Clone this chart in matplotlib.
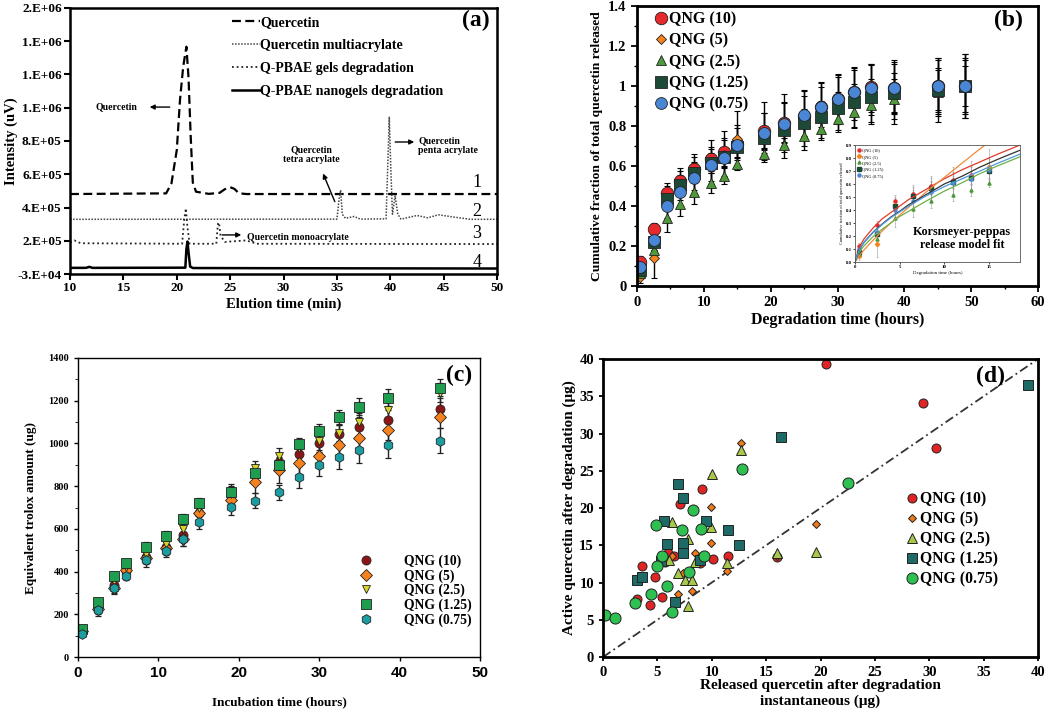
import matplotlib
matplotlib.use('Agg')
import matplotlib.pyplot as plt
from matplotlib.ticker import MultipleLocator, FixedLocator

plt.rcParams['font.family'] = ['Liberation Serif', 'DejaVu Serif']
plt.rcParams['font.weight'] = 'bold'
plt.rcParams['axes.labelweight'] = 'bold'

# ---------------- (a) chromatograms ----------------
a_x1 = [10, 19.0, 19.5, 20.0, 20.3, 20.6, 20.9, 21.1, 21.3, 21.5, 21.8, 23.0, 24.0, 24.5, 25.0, 25.4, 25.8, 26.5, 50]
a_y1 = [451e3, 455e3, 515e3, 716e3, 1017e3, 1217e3, 1337e3, 1150e3, 800e3, 520e3, 465e3, 452e3, 458e3, 480e3, 492e3, 482e3, 456e3, 451e3, 451e3]
a_x2 = [10, 35.0, 35.2, 35.35, 35.5, 35.8, 36.6, 37.2, 39.6, 39.8, 39.9, 40.05, 40.2, 40.45, 40.7, 41.0, 42.5, 43.5, 44.5, 46.0, 47.5, 50]
a_y2 = [299e3, 300e3, 420e3, 475e3, 330e3, 305e3, 316e3, 300e3, 302e3, 700e3, 916e3, 600e3, 330e3, 440e3, 330e3, 300e3, 322e3, 308e3, 326e3, 312e3, 299e3, 299e3]
a_x3 = [10, 10.4, 11.0, 20.5, 20.7, 20.85, 21.0, 21.2, 23.7, 23.85, 23.95, 24.1, 24.5, 26.5, 27.5, 50]
a_y3 = [160e3, 172e3, 155e3, 152e3, 300e3, 365e3, 250e3, 152e3, 152e3, 270e3, 280e3, 200e3, 163e3, 172e3, 152e3, 150e3]
a_x4 = [10, 11.5, 11.8, 12.1, 20.8, 20.9, 21.0, 21.1, 21.25, 21.5, 28.0, 50]
a_y4 = [7e3, 7e3, 13e3, 7e3, 8e3, 120e3, 165e3, 100e3, 15e3, 6e3, 5e3, 3e3]
a_names = ['Quercetin', 'Quercetin multiacrylate', 'Q-PBAE gels degradation', 'Q-PBAE nanogels degradation']
a_ytick_labels = ['-3.E+04', '2.E+05', '4.E+05', '6.E+05', '8.E+05', '1.E+06', '1.E+06', '1.E+06', '2.E+06']

# ---------------- (b) cumulative release ----------------
b_t = [0.5, 2.5, 4.5, 6.5, 8.5, 11, 13, 15, 19, 22, 25, 27.5, 30, 32.5, 35, 38.5, 45, 49]
b_names = ['QNG (10)', 'QNG (5)', 'QNG (2.5)', 'QNG (1.25)', 'QNG (0.75)']
b_q10 = [0.12, 0.283, 0.467, 0.525, 0.583, 0.633, 0.668, 0.71, 0.775, 0.813, 0.85, 0.893, 0.933, 0.97, 0.993, 0.99, 1.0, 1.0]
b_q5 = [0.047, 0.14, 0.44, 0.51, 0.57, 0.62, 0.655, 0.733, 0.77, 0.80, 0.83, 0.88, 0.92, 0.943, 0.96, 0.97, 0.98, 1.0]
b_q25 = [0.065, 0.18, 0.342, 0.41, 0.472, 0.517, 0.552, 0.608, 0.66, 0.705, 0.75, 0.785, 0.835, 0.868, 0.905, 0.935, 0.97, 1.0]
b_q125 = [0.08, 0.218, 0.433, 0.505, 0.567, 0.613, 0.647, 0.697, 0.738, 0.78, 0.813, 0.847, 0.888, 0.918, 0.947, 0.963, 0.98, 1.0]
b_q075 = [0.097, 0.23, 0.402, 0.472, 0.542, 0.605, 0.642, 0.705, 0.763, 0.81, 0.855, 0.897, 0.935, 0.968, 0.992, 0.988, 1.0, 1.0]
b_e10 = [0.03, 0.03, 0.05, 0.05, 0.06, 0.06, 0.07, 0.08, 0.09, 0.1, 0.1, 0.1, 0.11, 0.11, 0.11, 0.12, 0.13, 0.13]
b_e5 = [0.03, 0.10, 0.06, 0.08, 0.09, 0.11, 0.12, 0.14, 0.15, 0.16, 0.15, 0.14, 0.14, 0.15, 0.15, 0.16, 0.16, 0.16]
b_e25 = [0.03, 0.04, 0.07, 0.06, 0.06, 0.05, 0.04, 0.03, 0.03, 0.035, 0.05, 0.055, 0.065, 0.08, 0.085, 0.10, 0.12, 0.14]
b_e125 = [0.03, 0.04, 0.05, 0.05, 0.05, 0.05, 0.05, 0.05, 0.06, 0.06, 0.07, 0.08, 0.08, 0.09, 0.09, 0.1, 0.1, 0.1]
b_e075 = [0.03, 0.05, 0.06, 0.07, 0.08, 0.08, 0.09, 0.1, 0.1, 0.11, 0.12, 0.12, 0.12, 0.12, 0.12, 0.13, 0.14, 0.16]
b_yticks = [0, 0.2, 0.4, 0.6, 0.8, 1.0, 1.2, 1.4]
b_ytick_labels = ['0', '0.2', '0.4', '0.6', '0.8', '1', '1.2', '1.4']
# inset: Korsmeyer-Peppas fit curves
k_t = [0, 0.5, 1, 2, 3, 4, 5, 6, 8, 10, 12, 14, 16, 18.5]
k_q10 = [0, 0.12, 0.177, 0.26, 0.33, 0.38, 0.43, 0.48, 0.56, 0.64, 0.71, 0.77, 0.83, 0.90]
k_q5 = [0, 0.051, 0.092, 0.166, 0.235, 0.30, 0.36, 0.42, 0.54, 0.65, 0.76, 0.87, 0.97, 1.08]
k_q25 = [0, 0.079, 0.124, 0.194, 0.25, 0.30, 0.35, 0.39, 0.47, 0.545, 0.61, 0.68, 0.74, 0.81]
k_q125 = [0, 0.10, 0.151, 0.228, 0.29, 0.345, 0.39, 0.44, 0.52, 0.60, 0.66, 0.73, 0.79, 0.86]
k_q075 = [0, 0.10, 0.15, 0.225, 0.286, 0.34, 0.385, 0.43, 0.51, 0.58, 0.64, 0.70, 0.76, 0.83]

# ---------------- (c) trolox equivalent ----------------
c_t = [0.5, 2.5, 4.5, 6, 8.5, 11, 13, 15, 19, 22, 25, 27.5, 30, 32.5, 35, 38.5, 45]
c_q10 = [118, 230, 337, 405, 470, 515, 572, 674, 759, 858, 915, 950, 1004, 1042, 1077, 1111, 1162]
c_q5 = [120, 225, 322, 406, 465, 510, 552, 674, 736, 820, 877, 907, 943, 992, 1027, 1065, 1122]
c_q25 = [125, 240, 356, 421, 483, 529, 598, 700, 765, 884, 942, 978, 1011, 1050, 1101, 1158, 1237]
c_q125 = [130, 256, 379, 441, 513, 567, 644, 720, 774, 863, 897, 996, 1057, 1122, 1172, 1214, 1261]
c_q075 = [110, 221, 322, 380, 452, 497, 552, 633, 702, 731, 771, 843, 901, 936, 969, 992, 1013]
c_e10 = [15, 25, 25, 25, 30, 30, 30, 35, 35, 40, 40, 45, 45, 45, 45, 45, 50]
c_e5 = [15, 25, 25, 25, 30, 30, 30, 35, 40, 50, 60, 50, 50, 50, 50, 50, 50]
c_e25 = [15, 20, 20, 20, 25, 25, 25, 30, 35, 35, 35, 40, 40, 40, 40, 40, 45]
c_e125 = [15, 20, 20, 20, 25, 25, 25, 25, 35, 35, 35, 30, 35, 35, 40, 40, 40]
c_e075 = [10, 30, 20, 20, 30, 30, 30, 35, 35, 35, 35, 50, 55, 55, 60, 60, 60]

# ---------------- (d) active vs released ----------------
d_x10 = [20.5, 29.4, 30.6, 10.1, 11.5, 9.1, 7.1, 6.0, 5.7, 6.5, 3.6, 4.8, 3.1, 4.3, 5.4, 8.9, 16.0]
d_y10 = [39.3, 34.1, 28.0, 13.1, 13.5, 22.5, 20.6, 14.0, 12.8, 13.5, 12.2, 10.8, 7.8, 7.0, 8.0, 12.6, 13.4]
d_x5 = [12.7, 9.9, 9.9, 19.6, 8.5, 6.3, 7.4, 6.9, 8.2, 11.4, 16.0]
d_y5 = [28.7, 20.2, 15.3, 17.8, 13.9, 13.6, 11.3, 8.4, 8.8, 11.5, 13.5]
d_x25 = [12.7, 10.0, 6.3, 9.9, 7.8, 6.1, 8.5, 11.4, 6.9, 7.5, 8.2, 7.8, 16.0, 19.6]
d_y25 = [27.8, 24.6, 18.1, 17.5, 15.9, 13.0, 12.8, 12.6, 11.3, 10.3, 10.4, 6.8, 13.9, 14.1]
d_x125 = [39.1, 16.4, 6.9, 7.4, 5.6, 9.5, 11.5, 5.9, 7.4, 7.4, 12.5, 8.9, 5.3, 3.1, 3.6, 6.6]
d_y125 = [36.5, 29.5, 23.2, 21.3, 18.2, 18.3, 17.0, 15.2, 15.3, 14.0, 15.0, 13.0, 12.9, 10.4, 10.7, 7.4]
d_x075 = [22.5, 12.8, 8.3, 4.9, 7.3, 9.0, 9.3, 5.4, 5.0, 7.9, 5.9, 4.4, 2.9, 6.3, 0.2, 1.1]
d_y075 = [23.4, 25.3, 19.7, 17.7, 17.1, 17.2, 13.5, 13.5, 12.2, 11.4, 9.6, 8.5, 7.3, 6.0, 5.7, 5.3]
d_line = [0, 40]

fig = plt.figure(figsize=(10.5, 7.13), dpi=100)

# ===== panel (a) =====
ax = fig.add_axes([0.0667, 0.6157, 0.4067, 0.3731])
ax.plot(a_x1, a_y1, color='black', lw=1.6, ls=(0, (4, 2)), label=a_names[0])
ax.plot(a_x2, a_y2, color='#444444', lw=1.1, ls=(0, (1, 1)), label=a_names[1])
ax.plot(a_x3, a_y3, color='#222222', lw=1.3, ls=(0, (1, 1.6)), label=a_names[2])
ax.plot(a_x4, a_y4, color='black', lw=1.8, ls='-', label=a_names[3])
ax.set_xlim(10, 50)
ax.set_ylim(-3e4, 1.57e6)
ax.yaxis.set_major_locator(FixedLocator([-3e4 + i * 2e5 for i in range(9)]))
ax.set_yticklabels(a_ytick_labels)
ax.xaxis.set_major_locator(MultipleLocator(5))
ax.tick_params(labelsize=9.5, width=1.5, length=4, pad=2)
for s in ax.spines.values():
    s.set_linewidth(1.8)
ax.set_xlabel('Elution time (min)', fontsize=10.5, labelpad=2)
ax.set_ylabel('Intensity (uV)', fontsize=10.5, labelpad=0)
ax.legend(loc='upper left', bbox_to_anchor=(0.36, 1.0), frameon=False, fontsize=10,
          handlelength=2.0, handletextpad=0.0, labelspacing=0.72, borderaxespad=0.2)
ax.text(0.951, 0.955, '(a)', transform=ax.transAxes, fontsize=17, ha='center', va='center')
for lbl, yy in zip(['1', '2', '3', '4'], [520e3, 345e3, 214e3, 40e3]):
    ax.text(48.1, yy, lbl, fontsize=13, fontweight='normal', ha='center', va='center')
ann = dict(arrowstyle='-|>', color='black', lw=1.0, mutation_scale=7)
ax.annotate('', xy=(17.2, 974e3), xytext=(19.6, 974e3), arrowprops=ann)
ax.text(14.3, 974e3, 'Quercetin', fontsize=7, ha='center', va='center')
ax.annotate('', xy=(33.6, 590e3), xytext=(34.9, 390e3), arrowprops=ann)
ax.text(32.6, 686e3, 'Quercetin\ntetra acrylate', fontsize=7, ha='center', va='center', linespacing=1.1)
ax.annotate('', xy=(42.5, 764e3), xytext=(40.2, 764e3), arrowprops=ann)
ax.text(42.6, 740e3, 'Quercetin\npenta acrylate', fontsize=7, ha='left', va='center', linespacing=1.1)
ax.annotate('', xy=(26.3, 205e3), xytext=(24.0, 205e3), arrowprops=ann)
ax.text(26.6, 188e3, 'Quercetin monoacrylate', fontsize=7, ha='left', va='center')

# ===== panel (b) =====
bx = fig.add_axes([0.6067, 0.5989, 0.3819, 0.3927])
b_series = [b_q10, b_q5, b_q25, b_q125, b_q075]
b_errs = [b_e10, b_e5, b_e25, b_e125, b_e075]
b_colors = ['#E8292B', '#F5841F', '#4E9A3A', '#1D4A37', '#4A86D6']
b_markers = ['o', 'D', '^', 's', 'o']
b_sizes = [9, 5, 7.5, 8, 8.5]
for ys, es in zip(b_series, b_errs):
    bx.errorbar(b_t, ys, yerr=es, fmt='none', ecolor='black', elinewidth=1.0, capsize=2, capthick=0.8)
for ys, c, m, ms, nm in zip(b_series, b_colors, b_markers, b_sizes, b_names):
    bx.plot(b_t, ys, ls='none', marker=m, ms=ms, mfc=c, mec='#222222', mew=0.6, label=nm)
bx.set_xlim(0, 60)
bx.set_ylim(0, 1.4)
bx.xaxis.set_major_locator(MultipleLocator(10))
bx.xaxis.set_minor_locator(MultipleLocator(5))
bx.yaxis.set_major_locator(FixedLocator(b_yticks))
bx.yaxis.set_minor_locator(MultipleLocator(0.1))
bx.set_yticklabels(b_ytick_labels)
bx.tick_params(labelsize=10.5, width=1.3, length=4)
bx.tick_params(which='minor', length=2.5, width=1)
for s in bx.spines.values():
    s.set_linewidth(2)
bx.set_xlabel('Degradation time (hours)', fontsize=11.5, labelpad=2)
bx.set_ylabel('Cumulative fraction of total quercetin released', fontsize=9.7, labelpad=4)
bx.legend(loc='upper left', bbox_to_anchor=(0.012, 1.025), frameon=False, fontsize=11.5,
          handlelength=0.8, handletextpad=0.1, labelspacing=0.32, borderaxespad=0.4)
bx.text(0.925, 0.95, '(b)', transform=bx.transAxes, fontsize=17, ha='center', va='center')

# inset
ix = fig.add_axes([0.8143, 0.6325, 0.157, 0.164])
k_series = [k_q10, k_q5, k_q25, k_q125, k_q075]
k_colors = ['#E03A2A', '#F08A3A', '#6FAE47', '#333333', '#4A9ADA']
for ys, es in zip(b_series, b_errs):
    ix.errorbar(b_t[:8], ys[:8], yerr=es[:8], fmt='none', ecolor='#999999', elinewidth=0.4, capsize=0.8, capthick=0.4)
for ys, c, m, nm in zip(b_series, b_colors, b_markers, b_names):
    ix.plot(b_t[:8], ys[:8], ls='none', marker=m, ms=2.2, mfc=c, mec=c, label=nm)
for ys, c in zip(k_series, k_colors):
    ix.plot(k_t, ys, color=c, lw=0.9)
ix.set_xlim(0, 18.5)
ix.set_ylim(0, 0.9)
ix.xaxis.set_major_locator(MultipleLocator(5))
ix.yaxis.set_major_locator(MultipleLocator(0.1))
ix.tick_params(labelsize=3.5, length=1.5, width=0.5, pad=1)
for s in ix.spines.values():
    s.set_linewidth(0.6)
    s.set_color('#555555')
ix.set_xlabel('Degradation time (hours)', fontsize=3.5, labelpad=1, fontweight='normal')
ix.set_ylabel('Cumulative fraction of total quercetin released', fontsize=3.2, labelpad=1, fontweight='normal')
ix.legend(loc='upper left', frameon=False, handlelength=0.6, handletextpad=0.3,
          labelspacing=0.5, borderaxespad=0.3, prop={'size': 3.2, 'weight': 'normal'})
ix.text(0.65, 0.2, 'Korsmeyer-peppas\nrelease model fit', transform=ix.transAxes, fontsize=8.7,
        ha='center', va='center', linespacing=1.1)

# ===== panel (c) =====
cx = fig.add_axes([0.0743, 0.0785, 0.3829, 0.4194])
c_series = [c_q10, c_q5, c_q25, c_q125, c_q075]
c_errs = [c_e10, c_e5, c_e25, c_e125, c_e075]
c_colors = ['#8C1515', '#F5821F', '#D8D42A', '#1F9E50', '#1C9EA0']
c_markers = ['o', 'D', 'v', 's', 'h']
c_sizes = [6.5, 6, 6, 6.5, 7]
for ys, es in zip(c_series, c_errs):
    cx.errorbar(c_t, ys, yerr=es, fmt='none', ecolor='#222222', elinewidth=1.0, capsize=2.5, capthick=0.9)
for ys, c, m, ms, nm in zip(c_series, c_colors, c_markers, c_sizes, b_names):
    cx.plot(c_t, ys, ls='none', marker=m, ms=ms, mfc=c, mec='#222222', mew=0.6, label=nm)
cx.set_xlim(0, 50)
cx.set_ylim(0, 1400)
cx.xaxis.set_major_locator(MultipleLocator(10))
cx.yaxis.set_major_locator(MultipleLocator(200))
cx.yaxis.set_minor_locator(MultipleLocator(100))
cx.tick_params(axis='y', labelsize=7.5, width=1, length=3)
cx.tick_params(axis='y', which='minor', length=2)
cx.tick_params(axis='x', width=1, length=3)
for lab in cx.get_xticklabels():
    lab.set_family(['Liberation Sans', 'DejaVu Sans'])
    lab.set_fontsize(11)
    lab.set_fontweight('bold')
for s in cx.spines.values():
    s.set_linewidth(1.0)
cx.set_xlabel('Incubation time (hours)', fontsize=9.5, labelpad=12)
cx.set_ylabel('Equivalent trolox amount (ug)', fontsize=9.5, labelpad=8)
cx.legend(loc='upper left', bbox_to_anchor=(0.69, 0.362), frameon=False, fontsize=9.8,
          handlelength=0.8, handletextpad=2.4, labelspacing=0.1, borderaxespad=0)
cx.text(0.948, 0.943, '(c)', transform=cx.transAxes, fontsize=17, ha='center', va='center')

# ===== panel (d) =====
dx = fig.add_axes([0.5743, 0.0785, 0.4143, 0.418])
dx.plot(d_line, d_line, color='#333333', lw=1.3, ls=(0, (5, 2, 1, 2)))
d_sets = [(d_x10, d_y10), (d_x5, d_y5), (d_x25, d_y25), (d_x125, d_y125), (d_x075, d_y075)]
d_colors = ['#E02424', '#F07A1A', '#A8C84A', '#1E6A66', '#2EC050']
d_markers = ['o', 'D', '^', 's', 'o']
d_sizes = [6.5, 4.5, 7, 7, 8]
for (xs, ys), c, m, ms, nm in zip(d_sets, d_colors, d_markers, d_sizes, b_names):
    dx.plot(xs, ys, ls='none', marker=m, ms=ms, mfc=c, mec='#222222', mew=0.7, label=nm)
dx.set_xlim(0, 40)
dx.set_ylim(0, 40)
dx.xaxis.set_major_locator(MultipleLocator(5))
dx.yaxis.set_major_locator(MultipleLocator(5))
dx.tick_params(labelsize=10.5, width=1.3, length=3)
for s in dx.spines.values():
    s.set_linewidth(2)
dx.set_xlabel('Released quercetin after degradation\ninstantaneous (\u03bcg)', fontsize=11, labelpad=0, linespacing=1.2)
dx.set_ylabel('Active quercetin after degradation (\u03bcg)', fontsize=11, labelpad=2)
dx.legend(loc='upper left', bbox_to_anchor=(0.684, 0.577), frameon=False, fontsize=11.3,
          handlelength=0.7, handletextpad=0.15, labelspacing=0.25, borderaxespad=0)
dx.text(0.89, 0.94, '(d)', transform=dx.transAxes, fontsize=17, ha='center', va='center')

fig.savefig('out.png', dpi=100)
